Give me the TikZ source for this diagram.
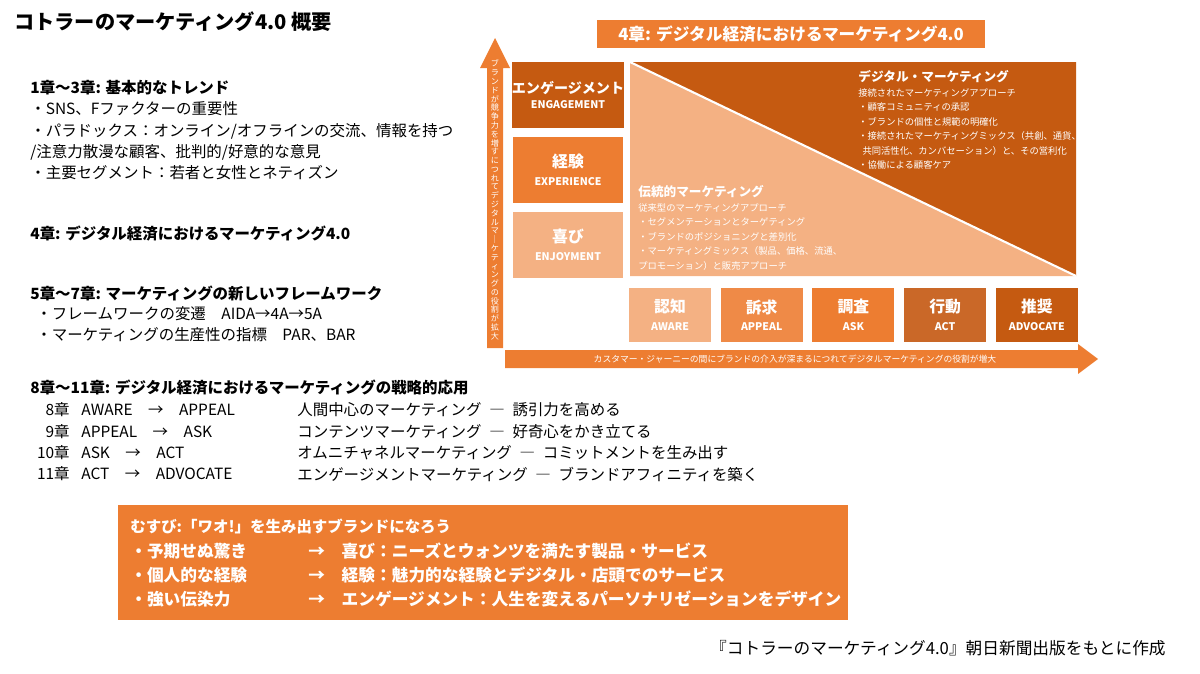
\documentclass[tikz,border=0pt]{standalone}
\usepackage{fontspec}
\setmainfont{Noto Sans CJK JP}
\usetikzlibrary{positioning}
\definecolor{orD}{HTML}{C55A11}
\definecolor{orM}{HTML}{ED7D31}
\definecolor{orA}{HTML}{EF8A47}
\definecolor{orT}{HTML}{CA6828}
\definecolor{orL}{HTML}{F4B183}
\tikzset{
  stagebox/.style={fill=#1, text=white, minimum width=82*0.02cm, minimum height=54*0.02cm, align=center, inner sep=0pt, font=\bfseries\fontsize{9}{12}\selectfont},
  levelbox/.style={fill=#1, text=white, minimum width=110*0.02cm, minimum height=66*0.02cm, align=center, inner sep=0pt, font=\bfseries\fontsize{9}{12}\selectfont},
  body/.style={anchor=west, inner sep=0pt, font=\fontsize{8.8}{10}\selectfont},
  head/.style={anchor=west, inner sep=0pt, font=\bfseries\fontsize{8.8}{10}\selectfont},
  small/.style={anchor=north west, inner sep=0pt, align=left, text=white, font=\fontsize{5.3}{8.3}\selectfont},
}
\begin{document}
\begin{tikzpicture}[x=0.02cm,y=-0.02cm]
\useasboundingbox (0,0) rectangle (1200,673);
% title and left text
\node[head, font=\bfseries\fontsize{11.5}{13}\selectfont] (title) at (14,22) {コトラーのマーケティング4.0 概要};
\node[head] (c13) at (30,88) {1章～3章: 基本的なトレンド};
\node[body] (c13a) at (30,109) {・SNS、Fファクターの重要性};
\node[body] (c13b) at (30,131) {・パラドックス：オンライン/オフラインの交流、情報を持つ};
\node[body] (c13c) at (30,152) {/注意力散漫な顧客、批判的/好意的な意見};
\node[body] (c13d) at (30,173) {・主要セグメント：若者と女性とネティズン};
\node[head] (c4) at (30,234) {4章: デジタル経済におけるマーケティング4.0};
\node[head] (c57) at (30,293) {5章〜7章: マーケティングの新しいフレームワーク};
\node[body] (c57a) at (36,314) {・フレームワークの変遷\quad AIDA→4A→5A};
\node[body] (c57b) at (36,335) {・マーケティングの生産性の指標\quad PAR、BAR};
\node[head] (c811) at (30,388) {8章〜11章: デジタル経済におけるマーケティングの戦略的応用};
\foreach \y/\ch/\route/\txt in {410/8章/AWARE\quad→\quad APPEAL/人間中心のマーケティング\enspace ―\enspace 誘引力を高める,
  432/9章/APPEAL\quad→\quad ASK/コンテンツマーケティング\enspace ―\enspace 好奇心をかき立てる,
  453/10章/ASK\quad →\quad ACT/オムニチャネルマーケティング\enspace ―\enspace コミットメントを生み出す,
  474/11章/ACT\quad →\quad ADVOCATE/エンゲージメントマーケティング\enspace ―\enspace ブランドアフィニティを築く}{
  \node[body, anchor=east] at (70,\y) {\ch};
  \node[body] at (81,\y) {\route};
  \node[body] at (297,\y) {\txt};
}
% banner
\node[fill=orM, text=white, minimum width=388*0.02cm, minimum height=28*0.02cm, inner sep=0pt, font=\bfseries\fontsize{9.5}{12}\selectfont] (banner) at (791,34) {4章: デジタル経済におけるマーケティング4.0};
% vertical arrow
\fill[orM] (487,348) -- (487,68) -- (480,68) -- (495,38) -- (510,68) -- (503,68) -- (503,348) -- cycle;
\node[text=white, font=\fontsize{4.6}{5.0}\selectfont, inner sep=0pt, align=center] (vtxt) at (495,200) {ブ\\ラ\\ン\\ド\\が\\競\\争\\力\\を\\増\\す\\に\\つ\\れ\\て\\デ\\ジ\\タ\\ル\\マ\\｜\\ケ\\テ\\ィ\\ン\\グ\\の\\役\\割\\が\\拡\\大};
% horizontal arrow
\fill[orM] (505,350) -- (1078,350) -- (1078,344) -- (1098,359) -- (1078,374) -- (1078,368) -- (505,368) -- cycle;
\node[text=white, font=\fontsize{5}{6}\selectfont, inner sep=0pt] (htxt) at (795,359) {カスタマー・ジャーニーの間にブランドの介入が深まるにつれてデジタルマーケティングの役割が増大};
% level boxes
\node[levelbox=orD, font=\bfseries\fontsize{8}{11}\selectfont] (eng) at (568,95) {エンゲージメント\\[-2pt]{\fontsize{6}{7}\selectfont ENGAGEMENT}};
\node[levelbox=orM] (exp) at (568,170) {経験\\[-2pt]{\fontsize{6}{7}\selectfont EXPERIENCE}};
\node[levelbox=orL] (enj) at (568,245) {喜び\\[-2pt]{\fontsize{6}{7}\selectfont ENJOYMENT}};
% triangle
\fill[orL] (630,62) -- (1076,276) -- (630,276) -- cycle;
\fill[orD] (630,62) -- (1076,62) -- (1076,276) -- cycle;
\draw[white, line width=1.2pt] (630,62) -- (1076,276);
\node[small] (digi) at (858,70) {{\bfseries\fontsize{7.2}{9}\selectfont デジタル・マーケティング}\\接続されたマーケティングアプローチ\\・顧客コミュニティの承認\\・ブランドの個性と規範の明確化\\・接続されたマーケティングミックス（共創、通貨、\\\ \ 共同活性化、カンバセーション）と、その営利化\\・協働による顧客ケア};
\node[small] (trad) at (638,185) {{\bfseries\fontsize{7.2}{9}\selectfont 伝統的マーケティング}\\従来型のマーケティングアプローチ\\・セグメンテーションとターゲティング\\・ブランドのポジショニングと差別化\\・マーケティングミックス（製品、価格、流通、\\プロモーション）と販売アプローチ};
% stage boxes
\node[stagebox=orL] (aware) at (670,315) {認知\\[-2pt]{\fontsize{6}{7}\selectfont AWARE}};
\node[stagebox=orA, right=9*0.02cm of aware] (appeal) {訴求\\[-2pt]{\fontsize{6}{7}\selectfont APPEAL}};
\node[stagebox=orM, right=9*0.02cm of appeal] (ask) {調査\\[-2pt]{\fontsize{6}{7}\selectfont ASK}};
\node[stagebox=orT, right=9*0.02cm of ask] (act) {行動\\[-2pt]{\fontsize{6}{7}\selectfont ACT}};
\node[stagebox=orD, right=9*0.02cm of act] (advocate) {推奨\\[-2pt]{\fontsize{6}{7}\selectfont ADVOCATE}};
% conclusion box
\fill[orM] (118,505) rectangle (848,620);
\node[head, text=white] (wow) at (130,526) {むすび:「ワオ!」を生み出すブランドになろう};
\foreach \y/\a/\b in {551/・予期せぬ驚き/喜び：ニーズとウォンツを満たす製品・サービス,
  575/・個人的な経験/経験：魅力的な経験とデジタル・店頭でのサービス,
  599/・強い伝染力/エンゲージメント：人生を変えるパーソナリゼーションをデザイン}{
  \node[head, text=white, font=\bfseries\fontsize{9.5}{11}\selectfont] at (130,\y) {\a};
  \node[head, text=white, font=\bfseries\fontsize{9.5}{11}\selectfont] at (308,\y) {→\quad \b};
}
\node[body, anchor=east, font=\fontsize{9.5}{11}\selectfont] (src) at (1166,648) {『コトラーのマーケティング4.0』朝日新聞出版をもとに作成};
\end{tikzpicture}
\end{document}
